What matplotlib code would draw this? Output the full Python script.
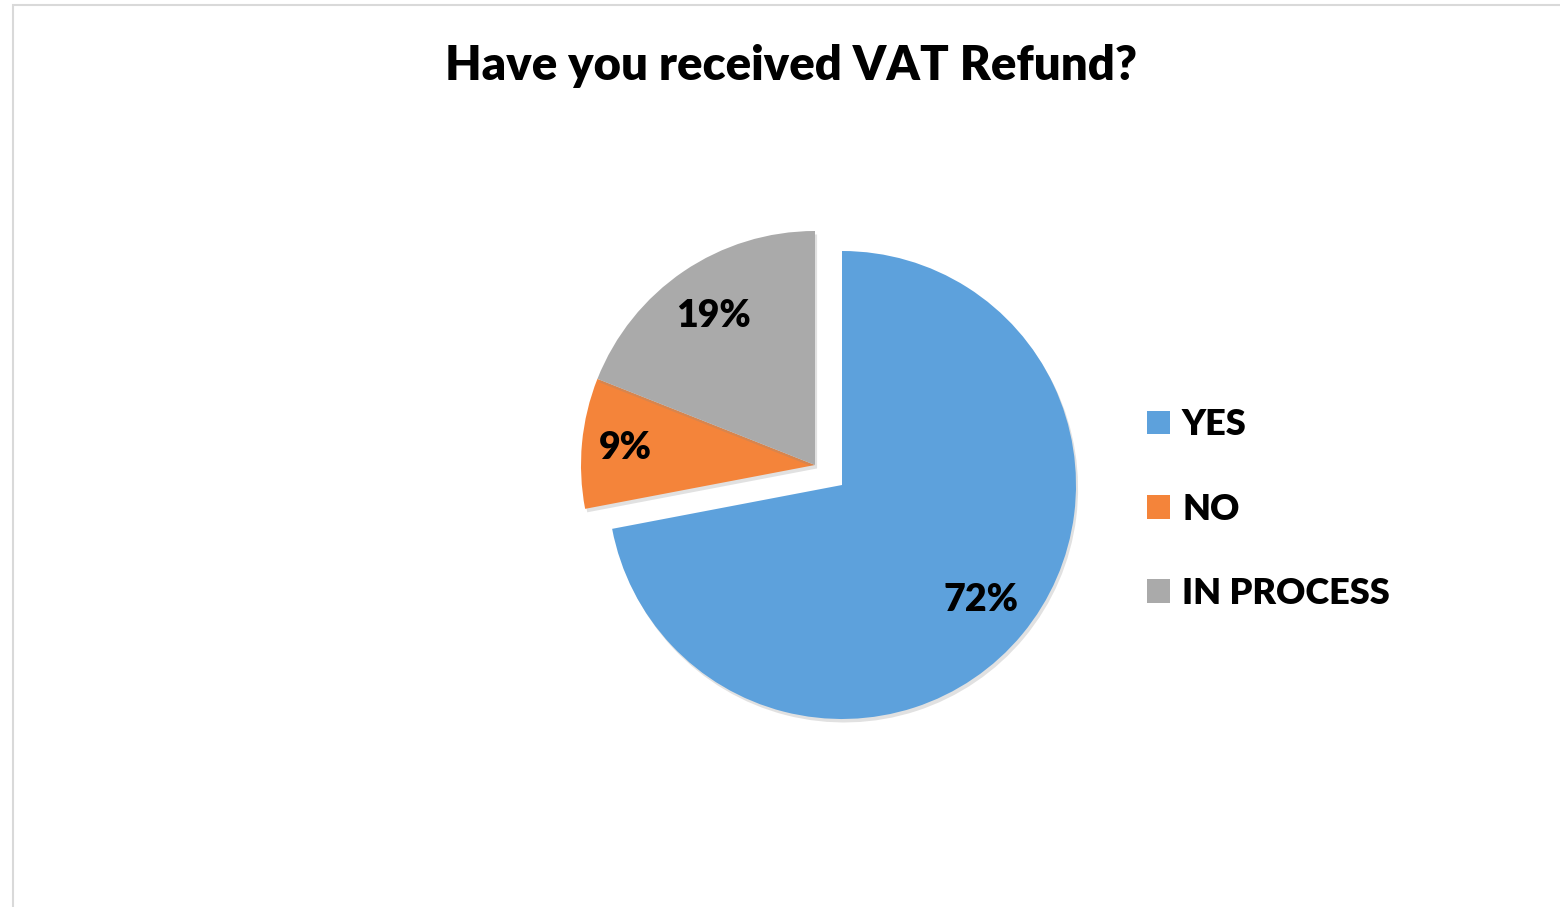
import matplotlib
matplotlib.use("Agg")
import matplotlib.pyplot as plt
import matplotlib.patheffects as pe
from matplotlib.patches import Rectangle

# chart data
LABELS = ["YES", "NO", "IN PROCESS"]
SHARES = [72, 9, 19]
COLOURS = ["#5da1dc", "#f4843a", "#aaaaaa"]
TITLE = "Have you received VAT Refund?"

W, H = 1560, 907
plt.rcParams["font.family"] = ["Lato", "DejaVu Sans"]
WEIGHT = "heavy"

fig = plt.figure(figsize=(W / 100, H / 100), dpi=100)
ax = fig.add_axes([0, 0, 1, 1])
ax.set_xlim(0, W)
ax.set_ylim(0, H)
ax.set_aspect("equal")
ax.axis("off")

centre = (842, H - 485)
radius = 234
shift = (-27, 20)  # NO + IN PROCESS are pulled out together

shadow = [pe.SimplePatchShadow(offset=(1.5, -2.5), shadow_rgbFace="#888888", alpha=0.25), pe.Normal()]
wedges, _, pcts = ax.pie(SHARES, colors=COLOURS, startangle=90, counterclock=False,
                         radius=radius, center=centre, autopct="%d%%", pctdistance=0.77,
                         wedgeprops=dict(linewidth=0, path_effects=shadow),
                         textprops=dict(fontsize=27, fontweight=WEIGHT, color="black"))
for w, t in zip(wedges[1:], pcts[1:]):
    cx, cy = w.center
    w.set_center((cx + shift[0], cy + shift[1]))
    x, y = t.get_position()
    t.set_position((x + shift[0], y + shift[1]))
# the small NO label sits a bit further out in the original
x, y = pcts[1].get_position()
pcts[1].set_position((x - 10, y))
ax.set_xlim(0, W)
ax.set_ylim(0, H)

leg = ax.legend(wedges, LABELS, loc="center left", bbox_to_anchor=(1147, H - 509),
                bbox_transform=ax.transData, frameon=False, borderpad=0, borderaxespad=0,
                handlelength=0.64, handleheight=0.64, handletextpad=0.33,
                labelspacing=1.42, prop=dict(size=26, weight=WEIGHT))
for h in leg.legend_handles:
    h.set_path_effects([])

fig.text(791 / W, 1 - 66 / H, TITLE, ha="center", va="center",
         fontsize=34, fontweight=WEIGHT)

# chart-area border (only top and left edges are visible in the crop)
fig.patches.append(Rectangle((13 / W, -0.1), 1.2, 1 - 5 / H + 0.1, transform=fig.transFigure,
                             fill=False, edgecolor="#d9d9d9", lw=1.5))

fig.savefig("out.png", dpi=100)
